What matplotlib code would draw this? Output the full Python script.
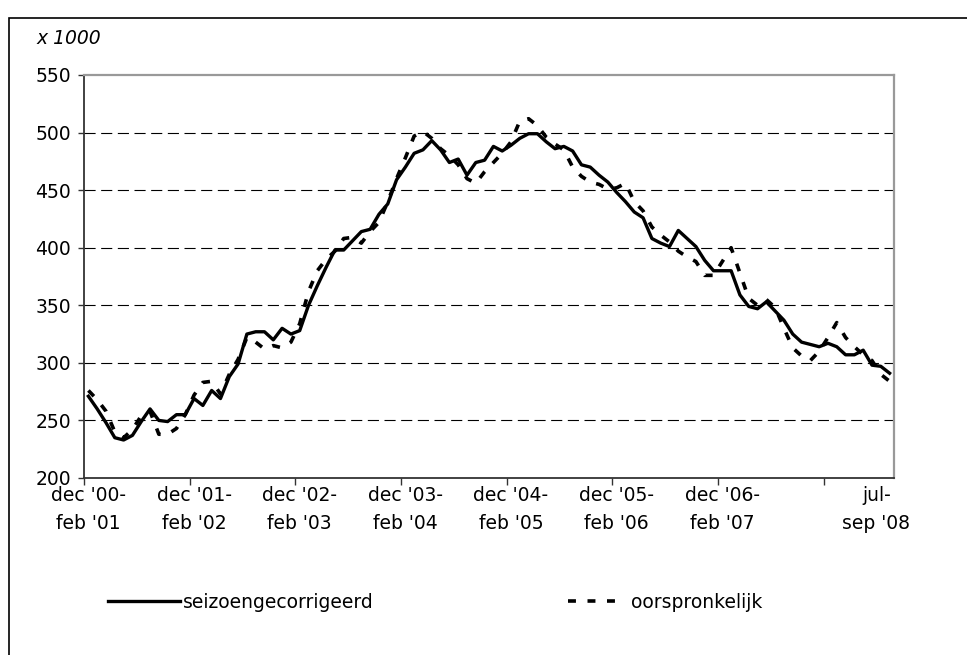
import matplotlib
matplotlib.use("Agg")
import matplotlib.pyplot as plt
from matplotlib.patches import Rectangle
import numpy as np

plt.rcParams['font.family'] = ['DejaVu Sans']

# 3-maands gemiddelden, dec '00-feb '01 t/m jul-sep '08 (x 1000)
seizoen = [271, 260, 248, 235, 233, 237, 249, 260, 250, 249,
           255, 255, 269, 263, 276, 269, 288, 299, 325, 327,
           327, 320, 330, 325, 328, 350, 367, 383, 398, 398,
           406, 414, 416, 429, 438, 459, 470, 482, 485, 493,
           485, 474, 477, 463, 474, 476, 488, 484, 489, 495,
           499, 499, 492, 486, 488, 484, 472, 470, 463, 457,
           448, 440, 431, 426, 408, 404, 401, 415, 408, 401,
           389, 380, 380, 380, 359, 349, 347, 353, 345, 337,
           325, 318, 316, 314, 317, 314, 307, 307, 311, 298,
           297, 291]
oorspr = [276, 268, 258, 240, 235, 242, 254, 258, 238, 238,
          243, 255, 272, 283, 284, 273, 290, 303, 322, 318,
          312, 315, 313, 318, 334, 362, 380, 390, 397, 408,
          409, 404, 414, 422, 440, 460, 478, 497, 501, 495,
          486, 480, 472, 460, 456, 466, 474, 482, 492, 510,
          512, 506, 496, 490, 485, 470, 462, 457, 455, 451,
          452, 456, 440, 432, 418, 411, 405, 397, 392, 388,
          376, 376, 388, 400, 378, 356, 350, 355, 348, 330,
          313, 306, 302, 310, 322, 335, 322, 314, 307, 302,
          290, 284]

label_pos = [0, 12, 24, 36, 48, 60, 72, 89.5]
label_txt = ["dec '00-\nfeb '01", "dec '01-\nfeb '02", "dec '02-\nfeb '03",
             "dec '03-\nfeb '04", "dec '04-\nfeb '05", "dec '05-\nfeb '06",
             "dec '06-\nfeb '07", "jul-\nsep '08"]
tick_pos = [-0.5, 11.5, 23.5, 35.5, 47.5, 59.5, 71.5, 83.5]
yticks = [200, 250, 300, 350, 400, 450, 500, 550]
grid_y = [250, 300, 350, 400, 450, 500]

W, H = 967, 655
FS = 13.5
fig = plt.figure(figsize=(W / 100, H / 100), dpi=100)
ax = fig.add_axes([84 / W, 1 - 478 / H, 810 / W, 403 / H])

x = np.arange(len(seizoen))
ax.hlines(grid_y, -0.5, len(seizoen) - 0.5, colors='black', lw=0.8,
          linestyles=(0, (10, 5)), zorder=1)
l1, = ax.plot(x, seizoen, color='black', lw=2.4, zorder=3)
l2, = ax.plot(x, oorspr, color='black', lw=2.6, linestyle=(0, (2.2, 3.2)),
              dash_capstyle='butt', zorder=2)

ax.set_xlim(-0.5, len(seizoen) - 0.5)
ax.set_ylim(200, 550)
ax.set_yticks(yticks)
ax.set_xticks(label_pos)
ax.set_xticklabels(label_txt, fontsize=FS, linespacing=1.55)
ax.set_xticks(tick_pos, minor=True)
ax.tick_params(axis='x', which='major', length=0, pad=6)
ax.tick_params(axis='x', which='minor', length=5, width=1, color='#333333')
ax.tick_params(axis='y', length=4.5, width=1, color='#333333', pad=5, labelsize=FS)

for s in ['left', 'bottom']:
    ax.spines[s].set_color('#333333')
    ax.spines[s].set_linewidth(1.3)
for s in ['top', 'right']:
    ax.spines[s].set_color('#999999')
    ax.spines[s].set_linewidth(1.6)

fig.text(36 / W, 1 - 38 / H, 'x 1000', style='italic', fontsize=FS,
         ha='left', va='center')

fs = FS * 100 / 72
fig.legend([l1], ['seizoengecorrigeerd'], loc='center left',
           bbox_to_anchor=(108 / W, 1 - 602 / H), frameon=False, borderpad=0,
           borderaxespad=0, handlelength=72 / fs, handletextpad=3 / fs,
           fontsize=FS)
fig.legend([l2], ['oorspronkelijk'], loc='center left',
           bbox_to_anchor=(568 / W, 1 - 602 / H), frameon=False, borderpad=0,
           borderaxespad=0, handlelength=58 / fs, handletextpad=5 / fs,
           fontsize=FS)

fig.add_artist(Rectangle((9 / W, -0.1), 1.0, 1 - 18 / H + 0.1,
                         transform=fig.transFigure, fill=False,
                         lw=1.2, ec='black'))

fig.savefig('out.png', dpi=100)
